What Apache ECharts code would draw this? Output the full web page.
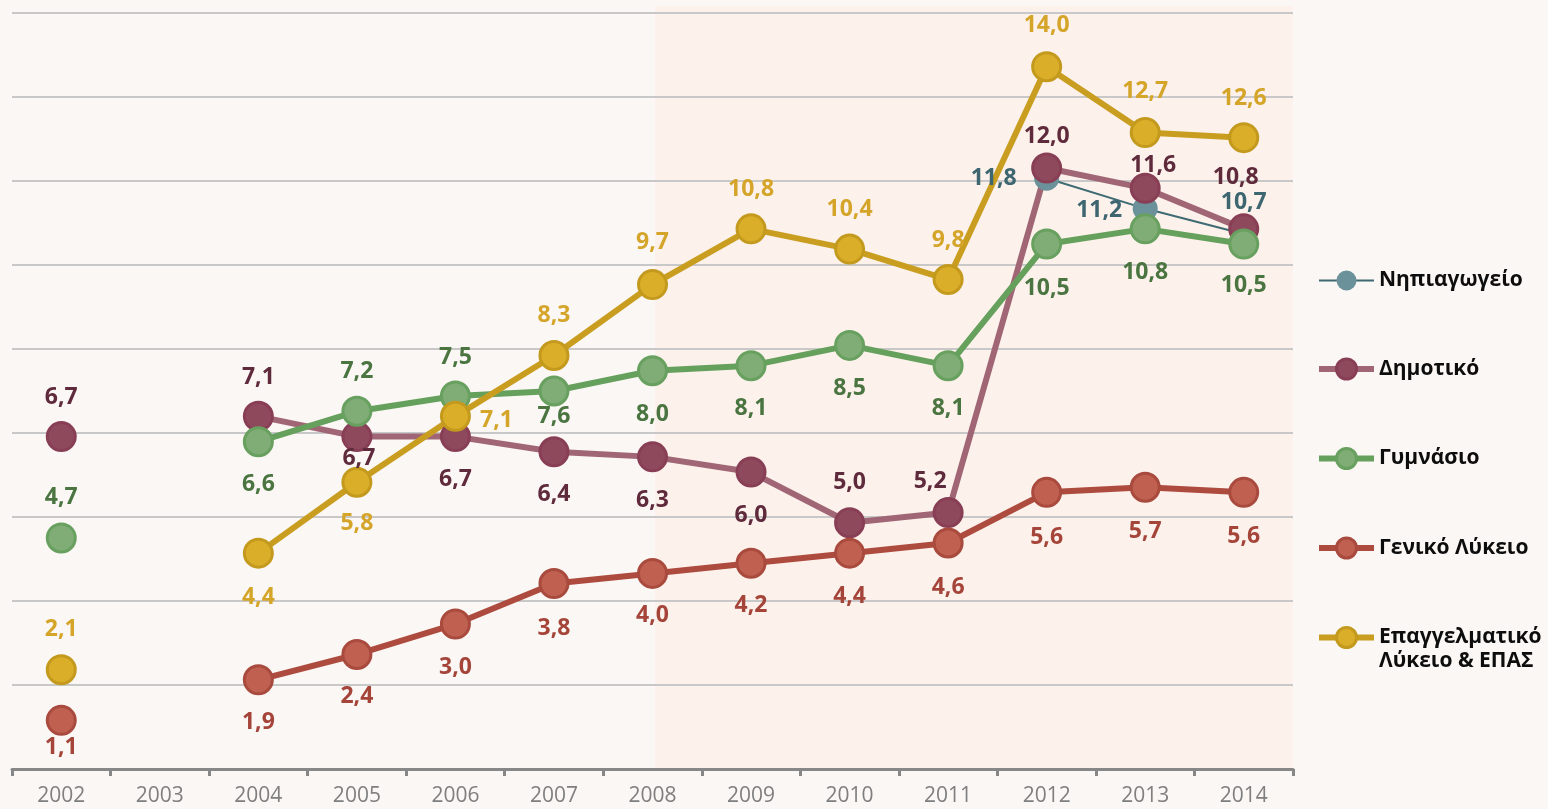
<!DOCTYPE html>
<html>
<head>
<meta charset="utf-8">
<script src="https://cdn.jsdelivr.net/npm/echarts@6/dist/echarts.min.js"></script>
<style>
html,body{margin:0;padding:0;background:#FBF7F4;}
#chart{width:1548px;height:809px;}
</style>
</head>
<body>
<div id="chart"></div>
<script>
const years = ['2002','2003','2004','2005','2006','2007','2008','2009','2010','2011','2012','2013','2014'];
const seriesNames = ['Νηπιαγωγείο','Δημοτικό','Γυμνάσιο','Γενικό Λύκειο','Επαγγελματικό Λύκειο & ΕΠΑΣ'];
const nipiagogeio = [null,null,null,null,null,null,null,null,null,null,11.8,11.2,10.7];
const dimotiko = [6.7,null,7.1,6.7,6.7,6.4,6.3,6.0,5.0,5.2,12.0,11.6,10.8];
const gymnasio = [4.7,null,6.6,7.2,7.5,7.6,8.0,8.1,8.5,8.1,10.5,10.8,10.5];
const geniko = [1.1,null,1.9,2.4,3.0,3.8,4.0,4.2,4.4,4.6,5.6,5.7,5.6];
const epal = [2.1,null,4.4,5.8,7.1,8.3,9.7,10.8,10.4,9.8,14.0,12.7,12.6];

// label placement (offset of label centre from its point)
const nipLabelOffsets = [null,null,null,null,null,null,null,null,null,null,[-53,0],[-46,2],[0,-31]];
const dimLabelOffsets = [[0,-39],null,[0,-39],[2,22],[0,43],[0,43],[0,44],[0,43],[0,-40],[-18,-31],[0,-32],[8,-23],[-8,-51]];
const gymLabelOffsets = [[0,-40],null,[0,43],[0,-40],[0,-39],[0,25],[0,44],[0,43],[0,43],[0,43],[0,44],[0,44],[0,41]];
const genLabelOffsets = [[0,27],null,[0,43],[0,42],[0,43],[0,45],[0,42],[0,42],[0,43],[0,44],[0,45],[0,44],[0,44]];
const epalLabelOffsets = [[0,-40],null,[0,44],[0,41],[41,4],[0,-40],[0,-42],[0,-39],[0,-40],[0,-39],[0,-41],[0,-41],[0,-39]];

const FONT = '"Open Sans", "Noto Sans", sans-serif';

function buildData(values, offsets) {
  return values.map((v, i) => v == null ? null : {
    value: v,
    label: { offset: offsets[i] || [0, 0] }
  });
}

function makeSeries(name, values, offsets, st) {
  return {
    name: name,
    type: 'line',
    yAxisIndex: 0,
    data: buildData(values, offsets),
    connectNulls: false,
    symbol: 'circle',
    symbolSize: st.size,
    lineStyle: { color: st.line, width: st.width },
    itemStyle: { color: st.fill, borderColor: st.border, borderWidth: st.bw },
    label: {
      show: true,
      position: 'inside',
      color: st.label,
      fontFamily: FONT,
      fontWeight: 'bold',
      fontSize: 23,
      formatter: p => p.value.toFixed(1).replace('.', ',')
    },
    emphasis: { disabled: true },
    animation: false
  };
}

const chart = echarts.init(document.getElementById('chart'));
const option = {
  backgroundColor: '#FBF7F4',
  animation: false,
  grid: { left: 12, right: 255, top: 13, bottom: 40 },
  graphic: [
    {
      type: 'rect', z: -10, silent: true,
      shape: { x: 655, y: 6, width: 638, height: 763 },
      style: { fill: '#FCF1EB' }
    },
    {
      type: 'text', left: 1379, top: 651,
      style: { text: 'Λύκειο & ΕΠΑΣ', font: 'bold 21px ' + FONT, fill: '#0D0D0D' }
    }
  ],
  legend: {
    orient: 'vertical',
    left: 1311,
    top: 265,
    itemWidth: 55,
    itemHeight: 25,
    itemGap: 66.5,
    data: seriesNames,
    formatter: n => n === seriesNames[4] ? 'Επαγγελματικό' : n,
    textStyle: { fontFamily: FONT, fontWeight: 'bold', fontSize: 21, color: '#0D0D0D' },
    lineStyle: { width: 'inherit' },
    itemStyle: { borderWidth: 'inherit' },
    selectedMode: false
  },
  xAxis: {
    type: 'category',
    data: years,
    boundaryGap: true,
    axisLine: { lineStyle: { color: '#878787', width: 3 } },
    axisTick: { show: true, length: 7, interval: 0, lineStyle: { color: '#878787', width: 3 } },
    axisLabel: { color: '#7F7F7F', fontFamily: FONT, fontSize: 21, margin: 17, interval: 0 },
    splitLine: { show: false }
  },
  yAxis: [
    { type: 'value', min: 0.14, max: 15.06, show: false, splitLine: { show: false } },
    {
      type: 'value', min: 0, max: 9, interval: 1,
      axisLine: { show: false }, axisTick: { show: false }, axisLabel: { show: false },
      splitLine: { show: true, lineStyle: { color: '#C8C8C8', width: 2 } }
    }
  ],
  series: [
    makeSeries(seriesNames[0], nipiagogeio, nipLabelOffsets,
      { size: 25, line: '#3E6B73', width: 2, fill: '#6B929A', border: '#6B929A', bw: 0, label: '#3D6670' }),
    makeSeries(seriesNames[1], dimotiko, dimLabelOffsets,
      { size: 28, line: '#A06675', width: 6, fill: '#8E4A5C', border: '#883F55', bw: 3, label: '#5E2A3C' }),
    makeSeries(seriesNames[2], gymnasio, gymLabelOffsets,
      { size: 28, line: '#65A05C', width: 6, fill: '#80AC76', border: '#68A060', bw: 3, label: '#4A7541' }),
    makeSeries(seriesNames[3], geniko, genLabelOffsets,
      { size: 28, line: '#AE4B3F', width: 6, fill: '#C06050', border: '#A94A3E', bw: 3, label: '#A5453A' }),
    makeSeries(seriesNames[4], epal, epalLabelOffsets,
      { size: 28, line: '#C99E20', width: 6, fill: '#DAAE28', border: '#C49A1E', bw: 3, label: '#D5A52A' })
  ]
};
chart.setOption(option);
</script>
</body>
</html>
